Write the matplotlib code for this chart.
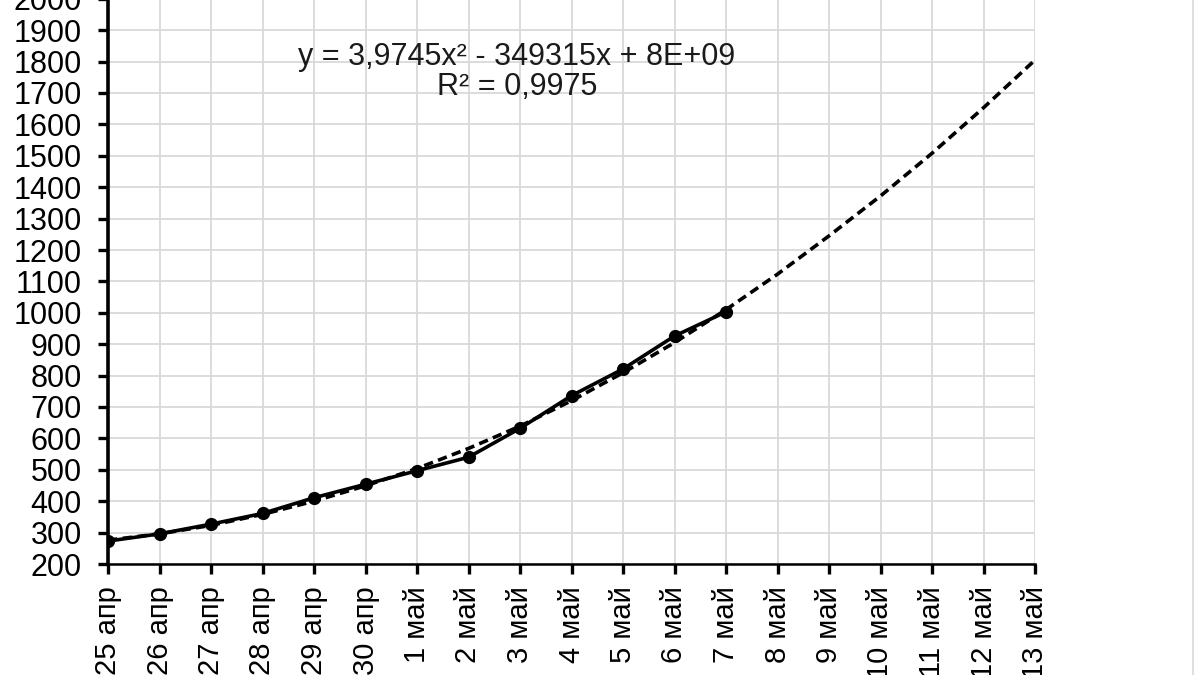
import matplotlib
matplotlib.use("Agg")
import matplotlib.pyplot as plt
from matplotlib.lines import Line2D

plt.rcParams['font.family'] = ['Liberation Sans', 'DejaVu Sans']

# dates (categories)
dates = ['25 апр', '26 апр', '27 апр', '28 апр', '29 апр', '30 апр',
         '1 май', '2 май', '3 май', '4 май', '5 май', '6 май', '7 май',
         '8 май', '9 май', '10 май', '11 май', '12 май', '13 май']

# observed values (first 13 days)
observed = [273, 296, 327, 361, 411, 454, 497, 540, 632, 736, 821, 926, 1003]

# polynomial trend line
trend = [276, 296, 323, 358, 400, 449, 504, 568, 639, 720, 809, 905,
         1010, 1123, 1245, 1372, 1508, 1653, 1805]

yticks = list(range(200, 2001, 100))

fig = plt.figure(figsize=(12, 6.75), dpi=100)
ax = fig.add_axes([108 / 1200, 111 / 675, 927 / 1200, 565.2 / 675])

x_all = list(range(len(dates)))
x_obs = x_all[:len(observed)]

ax.plot(x_all, trend, color='black', lw=2.6, dashes=(2.6, 1.5), zorder=3)
ax.plot(x_obs, observed, color='black', lw=2.6, marker='o', ms=8.5, zorder=4)

ax.set_xlim(0, len(dates) - 1)
ax.set_ylim(200, 2000)
ax.set_xticks(x_all)
ax.set_xticklabels(dates, rotation=90, fontsize=21)
ax.set_yticks(yticks)
ax.set_yticklabels([str(v) for v in yticks], fontsize=22)

ax.grid(True, color='#d9d9d9', lw=1.3)
ax.set_axisbelow(True)
for s in ['top', 'right']:
    ax.spines[s].set_visible(False)
ax.spines['left'].set_linewidth(2.6)
ax.spines['bottom'].set_linewidth(1.8)
ax.tick_params(axis='y', length=7, width=2.4, pad=12)
ax.tick_params(axis='x', length=7, width=2.4, pad=9)

fig.text(517 / 1200, 1 - 72 / 675,
         'y = 3,9745x² - 349315x + 8E+09\nR² = 0,9975',
         ha='center', va='center', ma='center', fontsize=22,
         linespacing=1.0, color='#1a1a1a')

# light frame of the chart area on the right
fig.add_artist(Line2D([1193 / 1200, 1193 / 1200], [0, 1],
                      transform=fig.transFigure, color='#d9d9d9', lw=1.2))

fig.savefig('out.png', dpi=100)
